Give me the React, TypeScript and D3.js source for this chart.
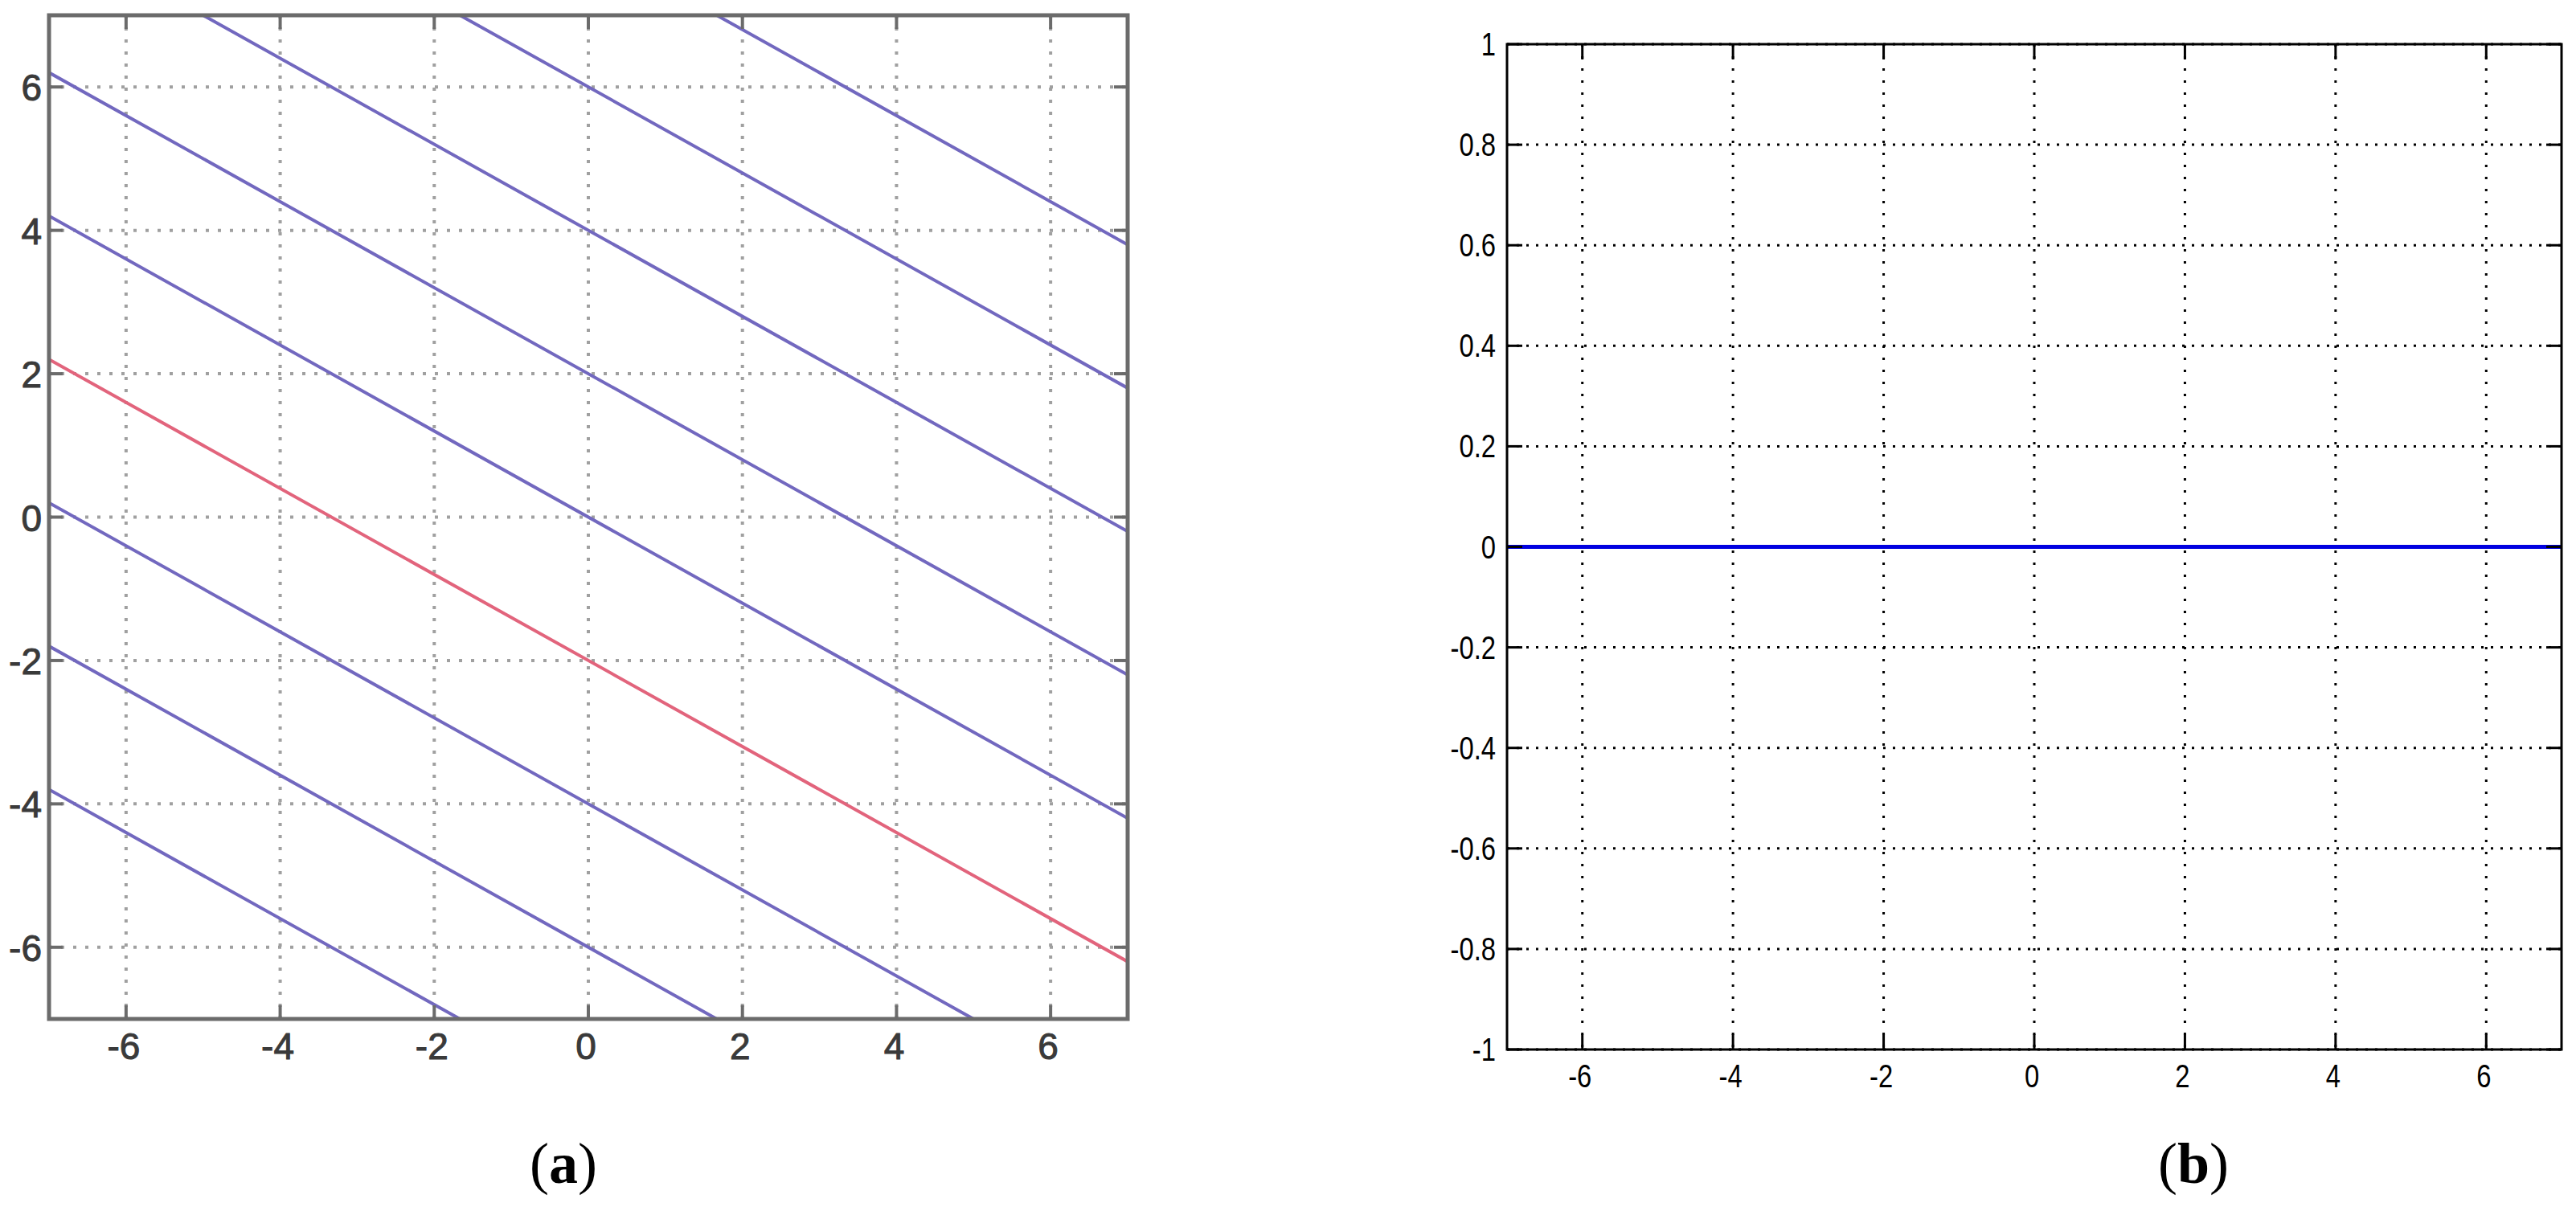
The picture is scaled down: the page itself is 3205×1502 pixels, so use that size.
import React from "react";
import * as d3 from "d3";

// ---- Data ----
// Panel (a): family of parallel lines, given by their y-values at x = -7 and x = 7
const linesA_yAtLeft = [12.2, 10.2, 8.2, 6.2, 4.2, 2.2, 0.2, -1.8, -3.8];
const linesA_yAtRight = [3.8, 1.8, -0.2, -2.2, -4.2, -6.2, -8.2, -10.2, -12.2];
const linesA_isRed = [false, false, false, false, false, true, false, false, false];
const ticksA = [-6, -4, -2, 0, 2, 4, 6];
const domainA: [number, number] = [-7, 7];

// Panel (b): constant zero line
const lineB_x = [-7, 7];
const lineB_y = [0, 0];
const ticksBx = [-6, -4, -2, 0, 2, 4, 6];
const ticksBy = [1, 0.8, 0.6, 0.4, 0.2, 0, -0.2, -0.4, -0.6, -0.8, -1];
const domainBx: [number, number] = [-7, 7];
const domainBy: [number, number] = [-1, 1];

export default function App() {
  const xA = d3.scaleLinear().domain(domainA).range([61, 1403]);
  const yA = d3.scaleLinear().domain(domainA).range([1268, 19]);
  const xB = d3.scaleLinear().domain(domainBx).range([1875, 3187]);
  const yB = d3.scaleLinear().domain(domainBy).range([1306, 55]);

  const line = d3.line<[number, number]>();
  const fmtB = (v: number) => (v === 0 ? "0" : String(+v.toFixed(1)));
  const fmtA = (v: number) => String(v);

  const axA = "#6b6b6b";
  const gridA = "#a0a0a0";
  const blueA = "#7268bf";
  const redA = "#e2647c";
  const tickLenA = 17;
  const tickLenB = 19;

  const [ax0, ax1] = xA.range();
  const [ay0, ay1] = yA.range();
  const [bx0, bx1] = xB.range();
  const [by0, by1] = yB.range();

  const narrow = { transform: "scale(0.8,1)" };

  return (
    <svg width={3205} height={1502} style={{ position: "absolute", left: 0, top: 0, background: "#fff" }}>
      <rect x={0} y={0} width={3205} height={1502} fill="#fff" />
      <defs>
        <clipPath id="clipA">
          <rect x={ax0} y={ay1} width={ax1 - ax0} height={ay0 - ay1} />
        </clipPath>
      </defs>

      {/* ---------- Panel (a) ---------- */}
      <g>
        {ticksA.map((t) => (
          <line key={"gvA" + t} x1={xA(t)} x2={xA(t)} y1={ay1} y2={ay0} stroke={gridA} strokeWidth={4} strokeDasharray="4,11" />
        ))}
        {ticksA.map((t) => (
          <line key={"ghA" + t} x1={ax0} x2={ax1} y1={yA(t)} y2={yA(t)} stroke={gridA} strokeWidth={4} strokeDasharray="4,11" />
        ))}
        <g clipPath="url(#clipA)">
          {linesA_yAtLeft.map((yl, i) => (
            <path
              key={"lA" + i}
              d={line([
                [xA(domainA[0]), yA(yl)],
                [xA(domainA[1]), yA(linesA_yAtRight[i])],
              ]) as string}
              stroke={linesA_isRed[i] ? redA : blueA}
              strokeWidth={4}
              fill="none"
            />
          ))}
        </g>
        {ticksA.map((t) => (
          <g key={"tA" + t} stroke={axA} strokeWidth={4}>
            <line x1={xA(t)} x2={xA(t)} y1={ay0} y2={ay0 - tickLenA} />
            <line x1={xA(t)} x2={xA(t)} y1={ay1} y2={ay1 + tickLenA} />
            <line x1={ax0} x2={ax0 + tickLenA} y1={yA(t)} y2={yA(t)} />
            <line x1={ax1} x2={ax1 - tickLenA} y1={yA(t)} y2={yA(t)} />
          </g>
        ))}
        <rect x={ax0} y={ay1} width={ax1 - ax0} height={ay0 - ay1} fill="none" stroke={axA} strokeWidth={5} />
        {ticksA.map((t) => (
          <text key={"xlA" + t} x={xA(t) - 3} y={1318} textAnchor="middle" fontFamily="Liberation Sans, Arial, sans-serif" fontSize={46} fill="#3a3a3a" stroke="#3a3a3a" strokeWidth={1}>
            {fmtA(t)}
          </text>
        ))}
        {ticksA.map((t) => (
          <text key={"ylA" + t} x={52} y={yA(t) + 17} textAnchor="end" fontFamily="Liberation Sans, Arial, sans-serif" fontSize={46} fill="#3a3a3a" stroke="#3a3a3a" strokeWidth={1}>
            {fmtA(t)}
          </text>
        ))}
      </g>

      {/* ---------- Panel (b) ---------- */}
      <g>
        {ticksBx.map((t) => (
          <line key={"gvB" + t} x1={xB(t)} x2={xB(t)} y1={by1} y2={by0} stroke="#000" strokeWidth={3} strokeDasharray="3,12" />
        ))}
        {ticksBy.map((t) => (
          <line key={"ghB" + t} x1={bx0} x2={bx1} y1={yB(t)} y2={yB(t)} stroke="#000" strokeWidth={3} strokeDasharray="3,9" />
        ))}
        <path
          d={line(lineB_x.map((x, i) => [xB(x), yB(lineB_y[i])] as [number, number])) as string}
          stroke="#0000e0"
          strokeWidth={5}
          fill="none"
        />
        {ticksBx.map((t) => (
          <g key={"tBx" + t} stroke="#000" strokeWidth={3}>
            <line x1={xB(t)} x2={xB(t)} y1={by0} y2={by0 - tickLenB} />
            <line x1={xB(t)} x2={xB(t)} y1={by1} y2={by1 + tickLenB} />
          </g>
        ))}
        {ticksBy.map((t) => (
          <g key={"tBy" + t} stroke="#000" strokeWidth={3}>
            <line x1={bx0} x2={bx0 + tickLenB} y1={yB(t)} y2={yB(t)} />
            <line x1={bx1} x2={bx1 - tickLenB} y1={yB(t)} y2={yB(t)} />
          </g>
        ))}
        <rect x={bx0} y={by1} width={bx1 - bx0} height={by0 - by1} fill="none" stroke="#000" strokeWidth={3} />
        {ticksBx.map((t) => (
          <g key={"xlB" + t} transform={`translate(${xB(t) - 3},1353)`}>
            <text style={narrow} textAnchor="middle" fontFamily="Liberation Sans, Arial, sans-serif" fontSize={41} fill="#000">
              {String(t)}
            </text>
          </g>
        ))}
        {ticksBy.map((t) => (
          <g key={"ylB" + t} transform={`translate(1861,${yB(t) + 14})`}>
            <text style={narrow} textAnchor="end" fontFamily="Liberation Sans, Arial, sans-serif" fontSize={41} fill="#000">
              {fmtB(t)}
            </text>
          </g>
        ))}
      </g>

      {/* ---------- Captions ---------- */}
      <text x={701} y={1472} textAnchor="middle" fontFamily="Liberation Serif, Times New Roman, serif" fontSize={72} fill="#000">
        <tspan>(</tspan>
        <tspan fontWeight="bold">a</tspan>
        <tspan>)</tspan>
      </text>
      <text x={2729} y={1472} textAnchor="middle" fontFamily="Liberation Serif, Times New Roman, serif" fontSize={72} fill="#000">
        <tspan>(</tspan>
        <tspan fontWeight="bold">b</tspan>
        <tspan>)</tspan>
      </text>
    </svg>
  );
}
